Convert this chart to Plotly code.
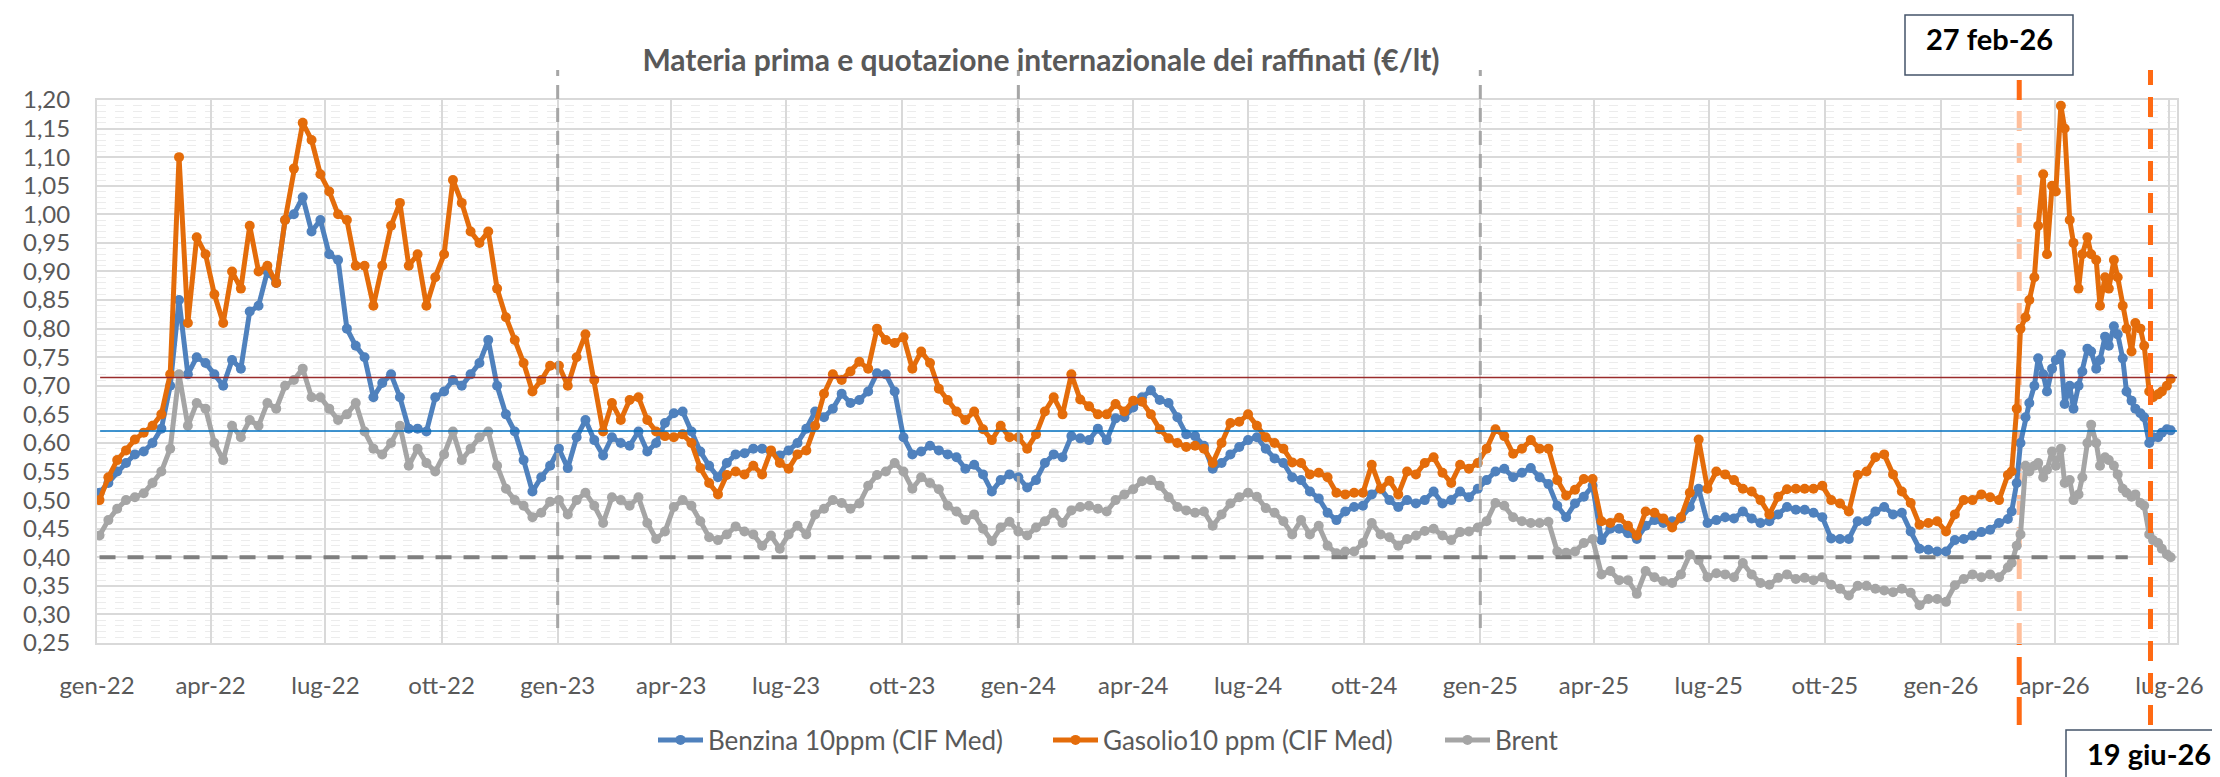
import pandas as pd
import plotly.graph_objects as go

# ---------------- data ----------------
# weekly readings (Mondays) from 2022-01-03 to 2026-02-16, then Mon/Thu readings to 2026-07-02
WEEKLY_START, WEEKLY_END = "2022-01-03", "2026-02-16"
DENSE_START, DENSE_END = "2026-02-23", "2026-07-02"

BENZINA = [
    0.513, 0.53, 0.55, 0.565, 0.58, 0.585, 0.60, 0.625, 0.70, 0.85,
    0.72, 0.75, 0.74, 0.72, 0.70, 0.745, 0.73, 0.83, 0.84, 0.90,
    0.88, 0.99, 1.00, 1.03, 0.97, 0.99, 0.93, 0.92, 0.80, 0.77,
    0.75, 0.68, 0.705, 0.72, 0.68, 0.625, 0.625, 0.62, 0.68, 0.69,
    0.71, 0.70, 0.72, 0.74, 0.78, 0.70, 0.65, 0.62,
    0.57, 0.515, 0.54, 0.56, 0.59, 0.556, 0.61, 0.64, 0.605, 0.578,
    0.61, 0.60, 0.595, 0.62, 0.585, 0.60, 0.635, 0.652, 0.655, 0.62,
    0.585, 0.56, 0.54, 0.565, 0.58, 0.582, 0.59, 0.59, 0.585, 0.578,
    0.587, 0.60, 0.625, 0.655, 0.645, 0.66, 0.686, 0.67, 0.675, 0.69,
    0.722, 0.72, 0.69, 0.61, 0.58, 0.585, 0.595,
    0.587, 0.58, 0.575, 0.555, 0.562, 0.545, 0.515, 0.535, 0.545, 0.54,
    0.522, 0.535, 0.565, 0.58, 0.575, 0.612, 0.608, 0.605, 0.625, 0.605,
    0.643, 0.645, 0.662, 0.68, 0.692, 0.675, 0.67, 0.645, 0.615, 0.612,
    0.595, 0.555, 0.565, 0.58, 0.593, 0.605, 0.61, 0.59, 0.573, 0.565,
    0.54, 0.535, 0.515, 0.503, 0.478, 0.465, 0.48, 0.488,
    0.49, 0.51, 0.52, 0.50, 0.488, 0.50, 0.494, 0.50, 0.515, 0.494,
    0.50, 0.515, 0.505, 0.52, 0.535, 0.55, 0.555, 0.54, 0.548, 0.556,
    0.54, 0.528, 0.49, 0.47, 0.494, 0.506, 0.525, 0.43, 0.45, 0.45,
    0.442, 0.432, 0.455, 0.465, 0.46, 0.463, 0.468, 0.488, 0.52, 0.46,
    0.465, 0.47, 0.468, 0.48, 0.468, 0.46, 0.463,
    0.475, 0.488, 0.483, 0.483, 0.478, 0.47, 0.433, 0.432, 0.432, 0.463,
    0.463, 0.48, 0.488, 0.475, 0.478, 0.445, 0.415, 0.413, 0.41, 0.41,
    0.43, 0.432, 0.438, 0.444, 0.448, 0.46,
    # Mon/Thu
    0.467, 0.48, 0.53, 0.60, 0.645, 0.67, 0.70, 0.748, 0.72, 0.69,
    0.73, 0.745, 0.755, 0.668, 0.70, 0.66, 0.70, 0.725, 0.765, 0.76,
    0.73, 0.745, 0.786, 0.77, 0.804, 0.79, 0.748, 0.69, 0.674, 0.66,
    0.652, 0.645, 0.60, 0.61, 0.61, 0.618, 0.624, 0.622,
]

GASOLIO = [
    0.50, 0.54, 0.57, 0.587, 0.606, 0.618, 0.63, 0.65, 0.72, 1.10,
    0.81, 0.96, 0.93, 0.86, 0.81, 0.90, 0.87, 0.98, 0.90, 0.91,
    0.88, 0.99, 1.08, 1.16, 1.13, 1.07, 1.04, 1.00, 0.99, 0.91,
    0.91, 0.84, 0.91, 0.98, 1.02, 0.91, 0.93, 0.84, 0.89, 0.93,
    1.06, 1.02, 0.97, 0.95, 0.97, 0.87, 0.82, 0.78,
    0.74, 0.69, 0.71, 0.735, 0.735, 0.70, 0.75, 0.79, 0.71, 0.62,
    0.67, 0.64, 0.675, 0.68, 0.64, 0.62, 0.612, 0.61, 0.615, 0.60,
    0.556, 0.53, 0.51, 0.544, 0.55, 0.545, 0.56, 0.545, 0.587, 0.565,
    0.555, 0.58, 0.587, 0.63, 0.686, 0.72, 0.71, 0.725, 0.742, 0.73,
    0.80, 0.78, 0.775, 0.785, 0.73, 0.76, 0.74,
    0.695, 0.675, 0.655, 0.64, 0.655, 0.624, 0.605, 0.63, 0.61, 0.61,
    0.59, 0.615, 0.655, 0.68, 0.65, 0.72, 0.676, 0.664, 0.65, 0.65,
    0.668, 0.655, 0.674, 0.672, 0.65, 0.624, 0.608, 0.60, 0.593, 0.595,
    0.59, 0.565, 0.60, 0.635, 0.637, 0.65, 0.63, 0.61, 0.60, 0.59,
    0.566, 0.565, 0.545, 0.548, 0.54, 0.513, 0.51, 0.513,
    0.513, 0.562, 0.52, 0.534, 0.51, 0.55, 0.545, 0.565, 0.575, 0.548,
    0.53, 0.562, 0.555, 0.565, 0.59, 0.624, 0.612, 0.581, 0.59, 0.605,
    0.59, 0.59, 0.535, 0.508, 0.518, 0.537, 0.537, 0.463, 0.46, 0.469,
    0.455, 0.438, 0.48, 0.478, 0.468, 0.452, 0.47, 0.513, 0.606, 0.52,
    0.55, 0.545, 0.535, 0.52, 0.515, 0.50, 0.475,
    0.506, 0.519, 0.52, 0.52, 0.52, 0.525, 0.50, 0.494, 0.48, 0.544,
    0.55, 0.575, 0.58, 0.545, 0.515, 0.495, 0.457, 0.46, 0.463, 0.445,
    0.475, 0.50, 0.50, 0.51, 0.505, 0.50,
    # Mon/Thu
    0.544, 0.55, 0.66, 0.80, 0.82, 0.85, 0.89, 0.98, 1.07, 0.93,
    1.05, 1.04, 1.19, 1.15, 0.99, 0.95, 0.87, 0.93, 0.96, 0.93,
    0.92, 0.84, 0.89, 0.87, 0.92, 0.89, 0.84, 0.80, 0.76, 0.81,
    0.80, 0.77, 0.69, 0.68, 0.685, 0.69, 0.70, 0.712,
]

BRENT = [
    0.438, 0.465, 0.485, 0.50, 0.505, 0.512, 0.53, 0.55, 0.59, 0.72,
    0.63, 0.67, 0.66, 0.60, 0.57, 0.63, 0.61, 0.64, 0.63, 0.67,
    0.66, 0.70, 0.71, 0.73, 0.68, 0.68, 0.66, 0.64, 0.65, 0.67,
    0.62, 0.59, 0.58, 0.60, 0.63, 0.56, 0.59, 0.565, 0.55, 0.58,
    0.62, 0.57, 0.59, 0.61, 0.62, 0.56, 0.52, 0.50,
    0.49, 0.47, 0.478, 0.497, 0.50, 0.475, 0.50, 0.513, 0.49, 0.46,
    0.505, 0.50, 0.49, 0.505, 0.46, 0.432, 0.445, 0.488, 0.50, 0.49,
    0.463, 0.435, 0.43, 0.44, 0.454, 0.445, 0.44, 0.42, 0.438, 0.415,
    0.44, 0.455, 0.44, 0.475, 0.485, 0.50, 0.495, 0.485, 0.494, 0.525,
    0.544, 0.55, 0.565, 0.55, 0.52, 0.54, 0.53,
    0.519, 0.49, 0.48, 0.465, 0.475, 0.45, 0.428, 0.452, 0.462, 0.445,
    0.438, 0.452, 0.463, 0.478, 0.46, 0.482, 0.488, 0.49, 0.485, 0.48,
    0.50, 0.51, 0.519, 0.533, 0.535, 0.525, 0.505, 0.488, 0.482, 0.478,
    0.48, 0.455, 0.475, 0.494, 0.505, 0.513, 0.506, 0.486, 0.478, 0.463,
    0.44, 0.465, 0.44, 0.455, 0.42, 0.407, 0.41, 0.41,
    0.425, 0.46, 0.44, 0.435, 0.42, 0.432, 0.438, 0.446, 0.45, 0.438,
    0.43, 0.444, 0.445, 0.452, 0.463, 0.495, 0.49, 0.47, 0.463, 0.46,
    0.46, 0.462, 0.41, 0.408, 0.41, 0.425, 0.432, 0.37, 0.376, 0.36,
    0.36, 0.336, 0.376, 0.365, 0.358, 0.355, 0.37, 0.405, 0.395, 0.365,
    0.372, 0.37, 0.365, 0.39, 0.37, 0.355, 0.352,
    0.364, 0.37, 0.362, 0.364, 0.36, 0.365, 0.352, 0.345, 0.333, 0.35,
    0.35, 0.345, 0.342, 0.339, 0.345, 0.338, 0.316, 0.327, 0.327, 0.322,
    0.351, 0.362, 0.37, 0.365, 0.37, 0.365,
    # Mon/Thu
    0.382, 0.39, 0.42, 0.44, 0.56, 0.55, 0.56, 0.565, 0.54, 0.553,
    0.585, 0.56, 0.59, 0.53, 0.535, 0.50, 0.51, 0.54, 0.60, 0.632,
    0.60, 0.56, 0.575, 0.57, 0.56, 0.545, 0.52, 0.513, 0.506, 0.51,
    0.495, 0.49, 0.44, 0.43, 0.425, 0.415, 0.405, 0.40,
]

SERIES_NAMES = ["Benzina 10ppm (CIF Med)", "Gasolio10 ppm (CIF Med)", "Brent"]

TICK_DATES = ["2022-01-01", "2022-04-01", "2022-07-01", "2022-10-01",
              "2023-01-01", "2023-04-01", "2023-07-01", "2023-10-01",
              "2024-01-01", "2024-04-01", "2024-07-01", "2024-10-01",
              "2025-01-01", "2025-04-01", "2025-07-01", "2025-10-01",
              "2026-01-01", "2026-04-01", "2026-07-01"]
TICK_LABELS = ["gen-22", "apr-22", "lug-22", "ott-22",
               "gen-23", "apr-23", "lug-23", "ott-23",
               "gen-24", "apr-24", "lug-24", "ott-24",
               "gen-25", "apr-25", "lug-25", "ott-25",
               "gen-26", "apr-26", "lug-26"]

TITLE = "Materia prima e quotazione internazionale dei raffinati (€/lt)"
REF_RED = 0.7145          # horizontal reference (red)
REF_BLUE = 0.621          # horizontal reference (blue)
REF_FLOOR = 0.40          # dashed grey reference
YEAR_MARKS = ["2023-01-01", "2024-01-01", "2025-01-01"]
EVENT_1_DATE, EVENT_1_LABEL = "2026-03-04", "27 feb-26"
EVENT_2_DATE, EVENT_2_LABEL = "2026-06-16", "19 giu-26"

# ---------------- build ----------------
weekly = pd.date_range(WEEKLY_START, WEEKLY_END, freq="7D")
dense = [d for d in pd.date_range(DENSE_START, DENSE_END, freq="D") if d.weekday() in (0, 3)]
DATES = list(weekly) + dense
assert len(DATES) == len(BENZINA) == len(GASOLIO) == len(BRENT), (len(DATES), len(BENZINA), len(GASOLIO), len(BRENT))

W, H = 2220, 777
ML, MR, MT, MB = 89, 51, 92, 142
PW, PH = W - ML - MR, H - MT - MB
X0, X1 = pd.Timestamp("2022-01-01"), pd.Timestamp("2026-07-07")
Y0, Y1 = 0.25, 1.20

def px_x(px):
    return (px - ML) / PW

def px_y(py):
    return (H - MB - py) / PH

def date_x(d):
    d = pd.Timestamp(d)
    return (d - X0) / (X1 - X0)

FONT = "Lato, 'Open Sans', sans-serif"
GREY_TXT = "#595959"
COLORS = ["#4F81BD", "#E46C0A", "#A5A5A5"]
LEGENDS = ["legend", "legend2", "legend3"]
LEGEND_X = [645, 1040, 1432]

fig = go.Figure()
for name, vals, col, lg in zip(SERIES_NAMES, [BENZINA, GASOLIO, BRENT], COLORS, LEGENDS):
    fig.add_trace(go.Scatter(
        x=DATES, y=vals, name=name, mode="lines+markers", legend=lg,
        line=dict(color=col, width=5),
        marker=dict(color=col, size=10, line=dict(width=0)),
    ))

shapes = []
for d in YEAR_MARKS:
    shapes.append(dict(type="line", xref="paper", yref="paper",
                       x0=date_x(d), x1=date_x(d), y0=px_y(620), y1=px_y(62),
                       line=dict(color="#A6A6A6", width=3, dash="14px,9px"), layer="above"))
shapes.append(dict(type="line", xref="paper", yref="y",
                   x0=date_x("2022-01-03"), x1=date_x("2026-05-29"), y0=REF_FLOOR, y1=REF_FLOOR,
                   line=dict(color="#7F7F7F", width=4, dash="16px,12px"), layer="above"))
shapes.append(dict(type="line", xref="paper", yref="y", x0=0.0015, x1=1, y0=REF_RED, y1=REF_RED,
                   line=dict(color="#9B2C2C", width=1.5), layer="above"))
shapes.append(dict(type="line", xref="paper", yref="y", x0=0.0015, x1=1, y0=REF_BLUE, y1=REF_BLUE,
                   line=dict(color="#0070C0", width=1.5), layer="above"))
e1 = date_x(EVENT_1_DATE)
shapes.append(dict(type="line", xref="paper", yref="paper", x0=e1, x1=e1, y0=px_y(92), y1=px_y(62),
                   line=dict(color="#FF6A13", width=5, dash="20px,10px"), layer="above"))
shapes.append(dict(type="line", xref="paper", yref="paper", x0=e1, x1=e1, y0=px_y(635), y1=px_y(92),
                   line=dict(color="#FF8C4A", width=5, dash="20px,12px"), opacity=0.55, layer="between"))
shapes.append(dict(type="line", xref="paper", yref="paper", x0=e1, x1=e1, y0=px_y(717), y1=px_y(636),
                   line=dict(color="#FF6A13", width=5, dash="28px,12px"), layer="above"))
e2 = date_x(EVENT_2_DATE)
shapes.append(dict(type="line", xref="paper", yref="paper", x0=e2, x1=e2, y0=px_y(717), y1=px_y(62),
                   line=dict(color="#FF6A13", width=5, dash="20px,12px"), layer="above"))
shapes.append(dict(type="rect", xref="paper", yref="paper",
                   x0=px_x(1897), x1=px_x(2065), y0=px_y(67), y1=px_y(7),
                   line=dict(color="#44546A", width=1.5), fillcolor="white", layer="above"))
shapes.append(dict(type="rect", xref="paper", yref="paper",
                   x0=px_x(2058), x1=px_x(2240), y0=px_y(800), y1=px_y(722),
                   line=dict(color="#44546A", width=1.5), fillcolor="white", layer="above"))

annotations = [
    dict(text=f"<b>{EVENT_1_LABEL}</b>", xref="paper", yref="paper", x=px_x(1981), y=px_y(31),
         xanchor="center", yanchor="middle", showarrow=False, font=dict(family=FONT, size=29, color="black")),
    dict(text=f"<b>{EVENT_2_LABEL}</b>", xref="paper", yref="paper", x=px_x(2141), y=px_y(745),
         xanchor="center", yanchor="middle", showarrow=False, font=dict(family=FONT, size=29, color="black")),
]

legend_common = dict(orientation="h", xref="paper", yref="paper", y=px_y(732),
                     xanchor="left", yanchor="middle",
                     font=dict(family=FONT, size=26, color=GREY_TXT),
                     bgcolor="rgba(0,0,0,0)", itemwidth=45,
                     itemclick=False, itemdoubleclick=False)

fig.update_layout(
    width=W, height=H, autosize=False,
    margin=dict(l=ML, r=MR, t=MT, b=MB, pad=0),
    paper_bgcolor="white", plot_bgcolor="white",
    separators=",.",
    font=dict(family=FONT, size=23, color=GREY_TXT),
    title=dict(text=f"<b>{TITLE}</b>", xref="container", yref="container",
               x=1033 / W, y=1 - 52 / H, xanchor="center", yanchor="middle",
               font=dict(family=FONT, size=30, color=GREY_TXT)),
    showlegend=True,
    legend=dict(legend_common, x=px_x(LEGEND_X[0])),
    legend2=dict(legend_common, x=px_x(LEGEND_X[1])),
    legend3=dict(legend_common, x=px_x(LEGEND_X[2])),
    shapes=shapes, annotations=annotations,
    hovermode=False,
)
fig.update_xaxes(
    type="date", range=[X0, X1], tickmode="array", tickvals=TICK_DATES, ticktext=TICK_LABELS,
    showgrid=True, gridcolor="#D9D9D9", gridwidth=2,
    ticks="outside", ticklen=20, tickcolor="rgba(0,0,0,0)",
    showline=True, linecolor="#D9D9D9", linewidth=2, mirror=True, zeroline=False,
    tickfont=dict(family=FONT, size=24, color=GREY_TXT),
)
fig.update_yaxes(
    range=[Y0, Y1], dtick=0.05, tick0=0.25, tickformat=".2f",
    showgrid=True, gridcolor="#D9D9D9", gridwidth=2,
    minor=dict(dtick=0.01, showgrid=True, gridcolor="#ECECEC", gridwidth=1, griddash="dash"),
    ticks="outside", ticklen=20, tickcolor="rgba(0,0,0,0)",
    showline=True, linecolor="#D9D9D9", linewidth=2, mirror=True, zeroline=False,
    tickfont=dict(family=FONT, size=24, color=GREY_TXT),
)

fig.write_html("out.html")
